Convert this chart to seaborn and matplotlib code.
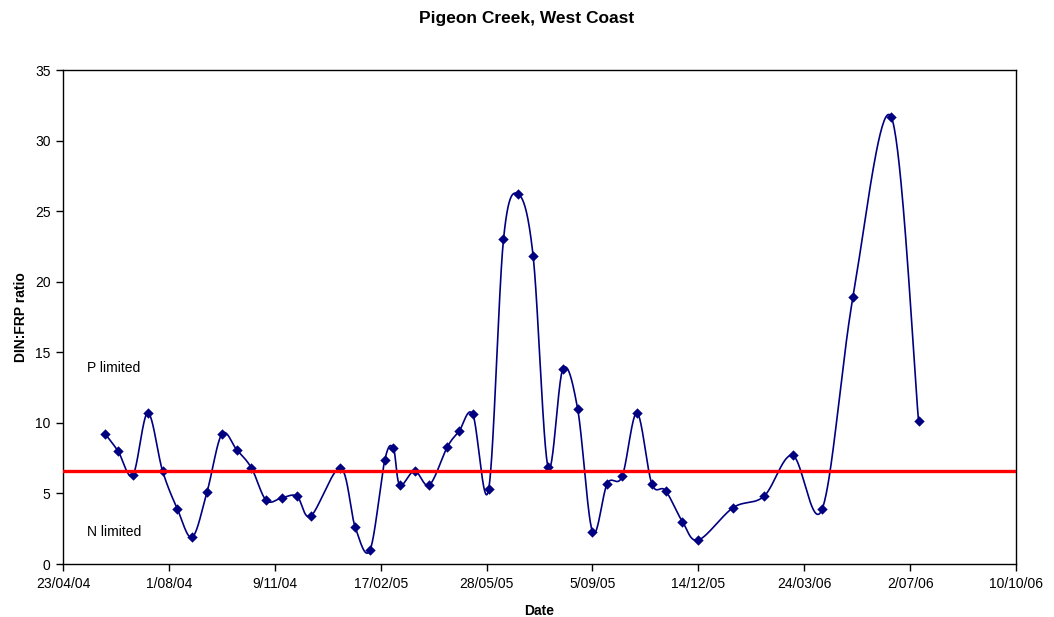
import numpy as np
import pandas as pd
import matplotlib
matplotlib.use("Agg")
import matplotlib.pyplot as plt
import matplotlib.dates as mdates
from matplotlib.ticker import FuncFormatter, FixedLocator
import seaborn as sns

# Fortnightly DIN:FRP samples, Pigeon Creek
sample_dates = [
    "2004-06-02", "2004-06-14", "2004-06-28", "2004-07-12", "2004-07-26",
    "2004-08-09", "2004-08-23", "2004-09-06", "2004-09-20", "2004-10-04",
    "2004-10-18", "2004-11-01", "2004-11-16", "2004-11-30", "2004-12-13",
    "2005-01-10", "2005-01-24", "2005-02-07", "2005-02-21", "2005-03-01",
    "2005-03-07", "2005-03-21", "2005-04-04", "2005-04-21", "2005-05-02",
    "2005-05-15", "2005-05-30", "2005-06-13", "2005-06-27", "2005-07-11",
    "2005-07-25", "2005-08-08", "2005-08-22", "2005-09-05", "2005-09-19",
    "2005-10-03", "2005-10-17", "2005-10-31", "2005-11-13", "2005-11-29",
    "2005-12-14", "2006-01-16", "2006-02-14", "2006-03-13", "2006-04-10",
    "2006-05-09", "2006-06-14", "2006-07-10",
]
din_frp_ratio = [
    9.2, 8.0, 6.3, 10.7, 6.6,
    3.9, 1.9, 5.1, 9.2, 8.1,
    6.8, 4.5, 4.7, 4.8, 3.4,
    6.8, 2.6, 1.0, 7.4, 8.2,
    5.6, 6.6, 5.6, 8.3, 9.4,
    10.6, 5.3, 23.0, 26.2, 21.8,
    6.9, 13.8, 11.0, 2.3, 5.7,
    6.2, 10.7, 5.7, 5.2, 3.0,
    1.7, 4.0, 4.8, 7.7, 3.9,
    18.9, 31.7, 10.1,
]

# Ratio separating N-limited from P-limited conditions
limit_ratio = 6.6

axis_start = "2004-04-23"
tick_step_days = 100
tick_count = 10
y_ticks = [0, 5, 10, 15, 20, 25, 30, 35]

navy = "#000080"


def smooth_curve(x, y, steps=40):
    """Catmull-Rom spline through every point (Bezier-style smoothed line)."""
    px = np.concatenate([[x[0]], x, [x[-1]]])
    py = np.concatenate([[y[0]], y, [y[-1]]])
    t = np.linspace(0, 1, steps, endpoint=False)
    xs, ys = [], []
    for i in range(1, len(px) - 2):
        p0, p1, p2, p3 = (np.array([px[j], py[j]]) for j in (i - 1, i, i + 1, i + 2))
        c1 = p1 + (p2 - p0) / 6.0
        c2 = p2 - (p3 - p1) / 6.0
        b = ((1 - t) ** 3)[:, None] * p1 + (3 * (1 - t) ** 2 * t)[:, None] * c1 \
            + (3 * (1 - t) * t ** 2)[:, None] * c2 + (t ** 3)[:, None] * p2
        xs.append(b[:, 0])
        ys.append(b[:, 1])
    xs.append([x[-1]])
    ys.append([y[-1]])
    return np.concatenate(xs), np.concatenate(ys)


sns.set_style("ticks")
plt.rcParams["font.family"] = ["Liberation Sans", "DejaVu Sans"]
plt.rcParams["text.color"] = "black"
plt.rcParams["axes.labelcolor"] = "black"

df = pd.DataFrame({"date": pd.to_datetime(sample_dates), "ratio": din_frp_ratio})
df["x"] = mdates.date2num(df["date"])
cx, cy = smooth_curve(df["x"].to_numpy(), df["ratio"].to_numpy())
curve = pd.DataFrame({"x": cx, "ratio": cy})

fig = plt.figure(figsize=(10.54, 6.17), dpi=100)
ax = fig.add_axes([63 / 1054, 53 / 617, (1016 - 63) / 1054, (564 - 70) / 617])

sns.lineplot(data=curve, x="x", y="ratio", sort=False, estimator=None,
             color=navy, linewidth=1.2, ax=ax, zorder=2)
sns.scatterplot(data=df, x="x", y="ratio", marker="D", s=28, color=navy,
                edgecolor=navy, linewidth=0, ax=ax, zorder=3)
ax.axhline(limit_ratio, color="#ff0000", linewidth=2.4, zorder=4)

x0 = mdates.date2num(pd.Timestamp(axis_start))
ticks = [x0 + tick_step_days * k for k in range(tick_count)]
ax.set_xlim(ticks[0], ticks[-1])
ax.xaxis.set_major_locator(FixedLocator(ticks))


def fmt_date(v, pos):
    d = mdates.num2date(v)
    return f"{d.day}/{d:%m/%y}"


ax.xaxis.set_major_formatter(FuncFormatter(fmt_date))
ax.set_ylim(0, 35)
ax.set_yticks(y_ticks)

for s in ax.spines.values():
    s.set_color("black")
    s.set_linewidth(1.0)
ax.tick_params(direction="out", length=5, width=1, colors="black",
               labelcolor="black", labelsize=10, pad=4)

ax.text(x0 + 22.5, 13.9, "P limited", fontsize=10, va="center", ha="left",
        color="black")
ax.text(x0 + 22.5, 2.3, "N limited", fontsize=10, va="center", ha="left",
        color="black")

ax.set_xlabel("Date", fontsize=10, fontweight="bold", labelpad=10, color="black")
ax.set_ylabel("DIN:FRP ratio", fontsize=10, fontweight="bold", labelpad=5,
              color="black")
fig.text(0.5, 1 - 18 / 617, "Pigeon Creek, West Coast", ha="center",
         va="center", fontsize=12.5, fontweight="bold", color="black")

fig.savefig("out.png", dpi=100)
